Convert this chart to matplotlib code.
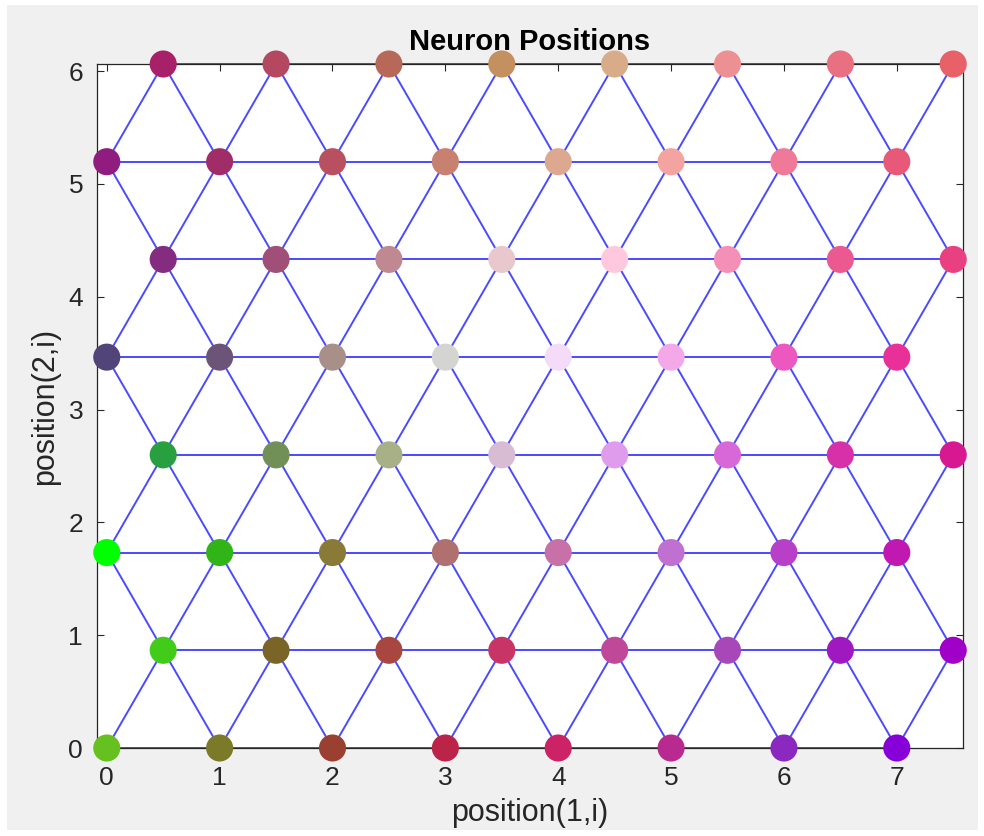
import numpy as np
import matplotlib
matplotlib.use('Agg')
import matplotlib.pyplot as plt
from matplotlib.patches import Rectangle

plt.rcParams['font.family'] = ['Liberation Sans', 'DejaVu Sans']

# 8x8 hexagonal SOM layout
n_cols = 8
n_rows = 8

# neuron colours, one row per layer from bottom to top
row0 = ['#66c020', '#7a7a28', '#9a4030', '#bb2448', '#cc2266', '#b82a90', '#8a28c0', '#8800d8']
row1 = ['#40cc18', '#7a6428', '#a84640', '#c83466', '#c04898', '#a848b8', '#a018c0', '#a000c8']
row2 = ['#00ff00', '#30b418', '#8a7a38', '#b07070', '#c870a8', '#c070d0', '#b840c8', '#c018b0']
row3 = ['#28a040', '#709058', '#a8b088', '#d8bcd4', '#e09cec', '#d868d8', '#d830a8', '#d81890']
row4 = ['#504478', '#6c5478', '#a89088', '#d4d4d0', '#f4dcf8', '#f4a8e8', '#ec58c0', '#e83098']
row5 = ['#842c80', '#a05078', '#c08890', '#e8c8cc', '#ffc8dc', '#f490b8', '#ec5890', '#e84080']
row6 = ['#901c80', '#a02c68', '#b85060', '#c88070', '#dca890', '#f4a4a0', '#f07898', '#e85878']
row7 = ['#a82068', '#b44860', '#b86858', '#c49060', '#d8ac88', '#ec9094', '#e87080', '#e86068']
colors = [row0, row1, row2, row3, row4, row5, row6, row7]

xticks = [0, 1, 2, 3, 4, 5, 6, 7]
yticks = [0, 1, 2, 3, 4, 5, 6]

h = np.sqrt(3) / 2
pos = []
cols = []
for j in range(n_rows):
    for i in range(n_cols):
        pos.append((i + 0.5 * (j % 2), j * h))
        cols.append(colors[j][i])
pos = np.array(pos)

fig = plt.figure(figsize=(9.84, 8.36), dpi=100, facecolor='white')
fig.patches.append(Rectangle((7 / 984, 1 - 830 / 836), 971 / 984, 825 / 836,
                             transform=fig.transFigure, facecolor='#f0f0f0',
                             edgecolor='none', zorder=-10))
ax = fig.add_axes([97 / 984, 1 - 748 / 836, 866 / 984, 684 / 836])

# links between neighbours (distance 1)
for a in range(len(pos)):
    for b in range(a + 1, len(pos)):
        d = np.hypot(*(pos[a] - pos[b]))
        if abs(d - 1) < 1e-6:
            ax.plot([pos[a, 0], pos[b, 0]], [pos[a, 1], pos[b, 1]],
                    color='#2a2aff', lw=1.4, alpha=0.85, zorder=2, clip_on=False)

ax.scatter(pos[:, 0], pos[:, 1], s=19.5 ** 2, c=cols, linewidths=0,
           zorder=5, clip_on=False)

ax.set_xlim(-0.0866, 7.5866)
ax.set_ylim(0, 7 * h)
ax.set_xticks(xticks)
ax.set_yticks(yticks)
ax.tick_params(direction='in', top=True, right=True, length=5, width=0.8,
               labelsize=19, colors='#262626')
ax.tick_params(axis='x', pad=13)
ax.tick_params(axis='y', pad=10)
for s in ax.spines.values():
    s.set_color('#262626')
    s.set_linewidth(0.9)

ax.set_title('Neuron Positions', fontsize=21, fontweight='bold', pad=10)
ax.set_xlabel('position(1,i)', fontsize=22, color='#262626', labelpad=6)
ax.set_ylabel('position(2,i)', fontsize=22, color='#262626', labelpad=6)

fig.savefig('out.png', dpi=100, facecolor='white')
